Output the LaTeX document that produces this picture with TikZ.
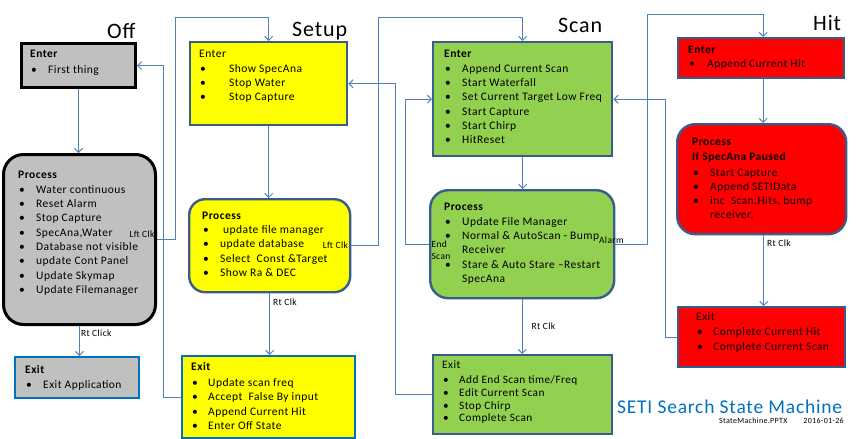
\documentclass[tikz,border=0pt]{standalone}
\usepackage{fontspec}
\setmainfont{Carlito}[LetterSpace=4]
\usepackage{xcolor}
\usepackage{tikz}
\usetikzlibrary{arrows.meta,calc}

\definecolor{offgray}{HTML}{C0C0C0}
\definecolor{edgeblue}{HTML}{385D8A}
\definecolor{exitblue}{HTML}{0070C0}
\definecolor{setupyellow}{HTML}{FFFF00}
\definecolor{scangreen}{HTML}{92D050}
\definecolor{hitred}{HTML}{FF0000}
\definecolor{linkblue}{HTML}{4F81BD}

\newcommand{\bul}[2][18pt]{\makebox[#1][l]{\hspace{1pt}\textbullet}#2}

\tikzset{
  statebox/.style={draw=edgeblue, line width=2.4pt, anchor=north west, inner sep=0pt},
  boxtext/.style={anchor=north west, inner sep=0pt, align=left, font=\fontsize{11.5}{14.3}\selectfont},
  link/.style={draw=linkblue, line width=1pt, -{Straight Barb[length=4pt,width=8pt]}},
  clk/.style={inner sep=1pt, font=\fontsize{9.5}{12.5}\selectfont},
  statetitle/.style={anchor=base west, inner sep=0pt, font=\fontsize{22}{24}\selectfont}
}

\begin{document}
\begin{tikzpicture}[x=1pt,y=-1pt]
  \useasboundingbox (0,0) rectangle (857,439);

  \node[statebox, fill=offgray, draw=black, line width=3pt, minimum width=114, minimum height=44] (offenter) at (20,42) {};
  \node[statebox, fill=offgray, draw=black, line width=3pt, rounded corners=20pt, minimum width=152, minimum height=170] (offproc) at (2,153) {};
  \node[statebox, fill=offgray, draw=exitblue, line width=2pt, minimum width=124, minimum height=41] (offexit) at (14,356) {};

  \node[statebox, fill=setupyellow, minimum width=157, minimum height=83] (setenter) at (189,41) {};
  \node[statebox, fill=setupyellow, rounded corners=16pt, minimum width=161, minimum height=93] (setproc) at (188,198) {};
  \node[statebox, fill=setupyellow, draw=exitblue, minimum width=173, minimum height=82] (setexit) at (181,355) {};

  \node[statebox, fill=scangreen, minimum width=179, minimum height=114] (scanenter) at (432,41) {};
  \node[statebox, fill=scangreen, rounded corners=18pt, minimum width=184, minimum height=108] (scanproc) at (429,189) {};
  \node[statebox, fill=scangreen, minimum width=179, minimum height=79] (scanexit) at (432,354) {};

  \node[statebox, fill=hitred, minimum width=166, minimum height=40] (hitenter) at (677,37) {};
  \node[statebox, fill=hitred, rounded corners=18pt, minimum width=169, minimum height=110] (hitproc) at (676,123) {};
  \node[statebox, fill=hitred, minimum width=167, minimum height=60] (hitexit) at (677,306) {};

  \node[statetitle] (offtitle) at (107,38) {Off};
  \node[statetitle] (setuptitle) at (292,36) {Setup};
  \node[statetitle] (scantitle) at (558,32) {Scan};
  \node[statetitle] (hittitle) at (813,30) {Hit};

  \node[boxtext] (offentertxt) at (30,49.6) {\textbf{Enter}\\[1.5pt]\bul{First thing}};
  \node[boxtext] (offproctxt) at (18,170.6) {\textbf{Process}\\[0.7pt]\bul{Water continuous}\\\bul{Reset Alarm}\\\bul{Stop Capture}\\\bul{SpecAna,Water}\\\bul{Database not visible}\\\bul{update Cont Panel}\\\bul{Update Skymap}\\\bul{Update Filemanager}};
  \node[boxtext] (offexittxt) at (25,365.6) {\textbf{Exit}\\[0.7pt]\bul{Exit Application}};

  \node[boxtext] (setentertxt) at (199,49.6) {Enter\\[0.7pt]\bul[30pt]{Show SpecAna}\\\bul[30pt]{Stop Water}\\\bul[30pt]{Stop Capture}};
  \node[boxtext] (setproctxt) at (202,211.6) {\textbf{Process}\\\bul[21pt]{update file manager}\\\bul{update database}\\\bul{Select\ \ Const \&Target}\\\bul{Show Ra \& DEC}};
  \node[boxtext] (setexittxt) at (191,362.6) {\textbf{Exit}\\[1.5pt]\bul[17pt]{Update scan freq}\\\bul[17pt]{Accept\ \ False By input}\\\bul[17pt]{Append Current Hit}\\\bul[17pt]{Enter Off State}};

  \node[boxtext] (scanentertxt) at (444,49.6) {\textbf{Enter}\\[0.7pt]\bul{Append Current Scan}\\\bul{Start Waterfall}\\\bul{Set Current Target Low Freq}\\\bul{Start Capture}\\\bul{Start Chirp}\\\bul{HitReset}};
  \node[boxtext] (scanproctxt) at (444,202.6) {\textbf{Process}\\[0.7pt]\bul{Update File Manager}\\\bul{Normal \& AutoScan - Bump}\\\hspace*{18pt}Receiver\\\bul{Stare \& Auto Stare --Restart}\\\hspace*{18pt}SpecAna};
  \node[boxtext, font=\fontsize{11.3}{12.8}\selectfont] (scanexittxt) at (442,360.8) {Exit\\[2pt]\bul[17pt]{Add End Scan time/Freq}\\\bul[17pt]{Edit Current Scan}\\\bul[17pt]{Stop Chirp}\\\bul[17pt]{Complete Scan}};

  \node[boxtext] (hitentertxt) at (688,45.6) {\textbf{Enter}\\\bul[19pt]{Append Current Hit}};
  \node[boxtext] (hitproctxt) at (692,137.6) {\textbf{Process}\\[0.7pt]\textbf{If SpecAna Paused}\\[1.5pt]\bul{Start Capture}\\\bul{Append SETIData}\\\bul{inc\ \ Scan.Hits, bump}\\\hspace*{18pt}receiver,};
  \node[boxtext] (hitexittxt) at (696,312.6) {Exit\\[0.7pt]\bul[17pt]{Complete Current Hit}\\\bul[17pt]{Complete Current Scan}};

  \draw[link] (offenter.south) -- (offenter.south |- offproc.north);
  \draw[link] (offproc.south) node[clk, anchor=north west, yshift=-2pt] {Rt Click} -- (offproc.south |- offexit.north);
  \draw[link] (offproc.east) node[clk, anchor=south east, xshift=-1pt] {Lft Clk} -- ++(18,0) |- ([yshift=24pt]setenter.north) -- (setenter.north);
  \draw[link] (setexit.west) -- ++(-18,0) |- (offenter.east);

  \draw[link] (setenter.south) -- (setenter.south |- setproc.north);
  \draw[link] (setproc.south) node[clk, anchor=north west, xshift=2pt, yshift=-4pt] {Rt Clk} -- (setproc.south |- setexit.north);
  \draw[link] (setproc.east) node[clk, anchor=east, xshift=-2pt] {Lft Clk} -- ++(27,0) |- ([yshift=24pt]scanenter.north) -- (scanenter.north);
  \draw[link] (scanexit.west) -- ++(-37,0) |- (setenter.east);

  \draw[link] (scanenter.south) -- (scanenter.south |- scanproc.north);
  \draw[link] (scanproc.south) -- node[clk, right=8pt] {Rt Clk} (scanproc.south |- scanexit.north);
  \draw[link] (scanproc.west) node[clk, anchor=north west, align=left, xshift=1pt, yshift=5pt] {End\\Scan} -- ++(-24,0) |- (scanenter.west);
  \draw[link] (scanproc.east) node[clk, anchor=south, xshift=-4pt, yshift=-1pt] {Alarm} -- ++(32,0) |- ([yshift=23pt,xshift=2pt]hitenter.north) -- ([xshift=2pt]hitenter.north);
  \draw[link] (hitexit.west) -- ++(-12,0) |- (scanenter.east);

  \draw[link] ([xshift=2pt]hitenter.south) -- ([xshift=2pt]hitenter.south |- hitproc.north);
  \draw[link] ([xshift=2pt]hitproc.south) node[clk, anchor=north west, xshift=2pt, yshift=-3pt] {Rt Clk} -- ([xshift=2pt]hitproc.south |- hitexit.north);

  \node[anchor=base west, inner sep=0pt, text=exitblue, font=\fontsize{19.5}{22}\selectfont] (machinetitle) at (617,413) {SETI Search State Machine};
  \node[anchor=base west, inner sep=0pt, font=\fontsize{8}{9}\selectfont] (machinefile) at (719,423) {StateMachine.PPTX\hspace{16pt}2016-01-26};
\end{tikzpicture}
\end{document}
